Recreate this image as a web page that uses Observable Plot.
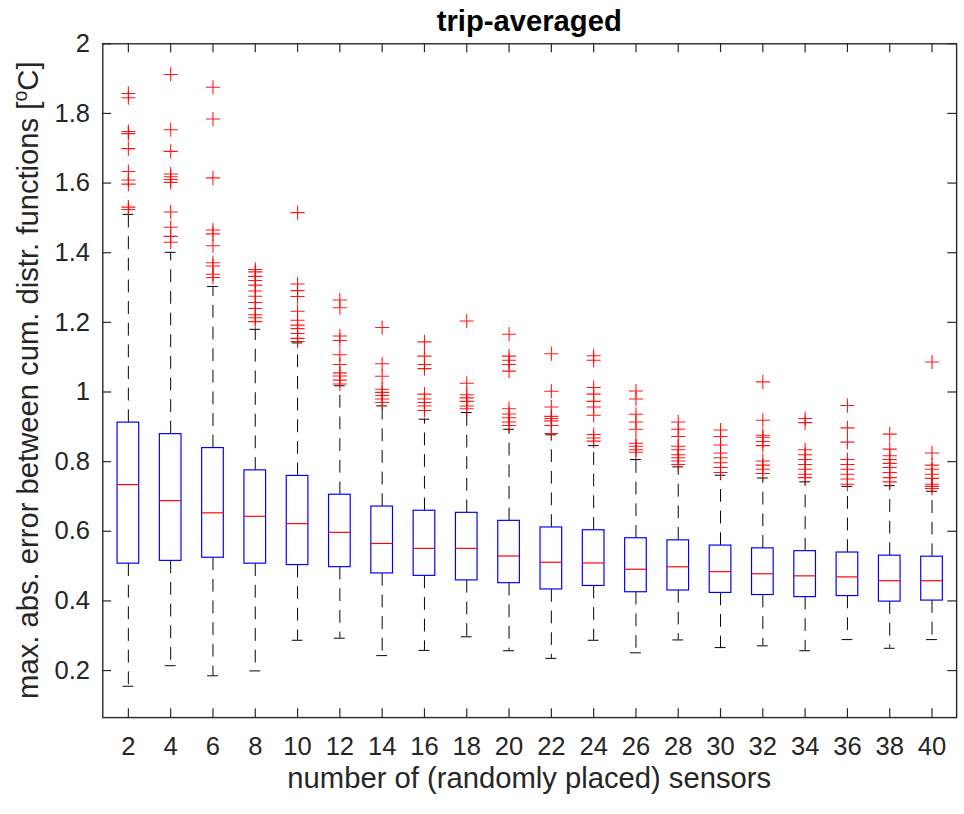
<!DOCTYPE html>
<html>
<head>
<meta charset="utf-8">
<script src="https://cdn.jsdelivr.net/npm/d3@7"></script>
<script src="https://cdn.jsdelivr.net/npm/@observablehq/plot@0.6"></script>
<style>
  html, body { margin: 0; padding: 0; background: #fff; overflow: hidden; }
  svg { display: block; }
</style>
</head>
<body>
<script>
// number of randomly placed sensors (categories)
const sensors = [2,4,6,8,10,12,14,16,18,20,22,24,26,28,30,32,34,36,38,40];
// box statistics
const q1  = [0.507,0.515,0.524,0.507,0.503,0.497,0.479,0.472,0.459,0.451,0.433,0.443,0.425,0.430,0.423,0.417,0.411,0.414,0.398,0.401];
const med = [0.734,0.688,0.653,0.643,0.622,0.597,0.565,0.551,0.551,0.529,0.511,0.509,0.491,0.498,0.484,0.478,0.472,0.469,0.458,0.458];
const q3  = [0.912,0.879,0.839,0.775,0.759,0.705,0.671,0.659,0.653,0.630,0.611,0.603,0.580,0.574,0.559,0.551,0.543,0.539,0.530,0.527];
const whiskerLo = [0.155,0.214,0.185,0.199,0.287,0.293,0.243,0.258,0.297,0.257,0.235,0.287,0.251,0.288,0.266,0.271,0.257,0.289,0.264,0.289];
const whiskerHi = [1.510,1.401,1.303,1.180,1.141,1.018,0.960,0.922,0.941,0.893,0.877,0.846,0.806,0.785,0.761,0.753,0.742,0.729,0.731,0.715];
// outliers per category
const outliers = [
  [1.857,1.845,1.748,1.742,1.699,1.633,1.609,1.597,1.531,1.524],
  [1.912,1.753,1.691,1.626,1.618,1.610,1.602,1.517,1.473,1.447,1.430],
  [1.875,1.784,1.615,1.465,1.454,1.420,1.371,1.362,1.338,1.329],
  [1.352,1.345,1.332,1.320,1.307,1.290,1.275,1.257,1.240,1.222,1.213,1.202],
  [1.515,1.310,1.291,1.274,1.232,1.206,1.192,1.182,1.168,1.154,1.145],
  [1.264,1.242,1.161,1.148,1.107,1.079,1.055,1.046,1.034,1.023],
  [1.185,1.081,1.045,1.008,0.999,0.990,0.980,0.970],
  [1.144,1.103,1.079,1.067,0.994,0.980,0.970,0.960,0.947],
  [1.204,1.025,0.992,0.983,0.973,0.960,0.952],
  [1.166,1.103,1.091,1.079,1.060,0.952,0.937,0.926,0.914,0.904],
  [1.110,1.002,0.957,0.930,0.924,0.917,0.904,0.881],
  [1.104,1.091,1.013,0.994,0.973,0.957,0.933,0.878,0.868,0.859],
  [1.003,0.980,0.936,0.914,0.893,0.853,0.844,0.834,0.827],
  [0.914,0.893,0.872,0.844,0.834,0.820,0.811,0.802,0.792],
  [0.891,0.872,0.848,0.825,0.811,0.797,0.783,0.769],
  [1.029,0.919,0.876,0.870,0.858,0.846,0.802,0.790,0.778,0.766],
  [0.924,0.912,0.834,0.820,0.806,0.792,0.778,0.764,0.754],
  [0.961,0.897,0.856,0.806,0.792,0.778,0.764,0.750,0.735],
  [0.879,0.836,0.817,0.806,0.795,0.783,0.769,0.754,0.742],
  [1.086,0.825,0.790,0.778,0.764,0.752,0.735,0.729,0.723]
];
const yTicks = [0.2,0.4,0.6,0.8,1,1.2,1.4,1.6,1.8,2];
const titleText = "trip-averaged";
const xLabel = "number of (randomly placed) sensors";
const yLabelMain = "max. abs. error between cum. distr. functions [";
const yLabelSup = "o";
const yLabelEnd = "C]";

// tables built from the arrays
const boxes = sensors.map((s, i) => ({s, q1: q1[i], med: med[i], q3: q3[i], lo: whiskerLo[i], hi: whiskerHi[i]}));
const outs = sensors.flatMap((s, i) => outliers[i].map(v => ({s, v})));

const W = 980, H = 814, mL = 104, mR = 8, mT = 44, mB = 85;
const plotW = W - mL - mR, plotH = H - mT - mB;
const tickLen = 9;
const axisColor = "#262626";
const labelSize = "29.7px";

const chart = Plot.plot({
  width: W, height: H,
  marginLeft: mL, marginRight: mR, marginTop: mT, marginBottom: mB,
  style: {fontFamily: "'Liberation Sans', Arial, Helvetica, sans-serif", color: axisColor, background: "#fff", overflow: "visible"},
  x: {type: "band", domain: sensors, paddingInner: 0.5, paddingOuter: 0.25},
  y: {domain: [0.065, 2]},
  marks: [
    // whiskers (dashed)
    Plot.ruleX(boxes, {x: "s", y1: "q3", y2: "hi", stroke: "#000", strokeWidth: 1, strokeDasharray: "13,9"}),
    Plot.ruleX(boxes, {x: "s", y1: "q1", y2: "lo", stroke: "#000", strokeWidth: 1, strokeDasharray: "13,9"}),
    // whisker caps
    Plot.tickY(boxes, {x: "s", y: "hi", stroke: "#000", strokeWidth: 1, insetLeft: 5.5, insetRight: 5.5}),
    Plot.tickY(boxes, {x: "s", y: "lo", stroke: "#000", strokeWidth: 1, insetLeft: 5.5, insetRight: 5.5}),
    // boxes
    Plot.barY(boxes, {x: "s", y1: "q1", y2: "q3", fill: "#fff", stroke: "#0000ff", strokeWidth: 1.2}),
    // medians
    Plot.tickY(boxes, {x: "s", y: "med", stroke: "#ff0000", strokeWidth: 1.2}),
    // outliers
    Plot.dot(outs, {x: "s", y: "v", symbol: "plus", r: 4.7, stroke: "#ff0000", strokeWidth: 1.1, strokeOpacity: 0.9}),
    // axes box
    Plot.frame({stroke: axisColor, strokeWidth: 1.4}),
    // inward ticks
    Plot.ruleX(sensors, {x: d => d, insetTop: plotH - tickLen, stroke: axisColor, strokeWidth: 1.2}),
    Plot.ruleX(sensors, {x: d => d, insetBottom: plotH - tickLen, stroke: axisColor, strokeWidth: 1.2}),
    Plot.ruleY(yTicks, {y: d => d, insetRight: plotW - tickLen, stroke: axisColor, strokeWidth: 1.2}),
    Plot.ruleY(yTicks, {y: d => d, insetLeft: plotW - tickLen, stroke: axisColor, strokeWidth: 1.2}),
    // tick labels
    Plot.axisX({anchor: "bottom", tickSize: 0, tickPadding: 20, fontSize: 26, label: null}),
    Plot.axisY(yTicks, {anchor: "left", tickSize: 0, tickPadding: 13, fontSize: 26, tickFormat: d => String(d), label: null})
  ]
});
document.body.appendChild(chart);

const svg = d3.select(chart);
const cx = mL + plotW / 2, cy = mT + plotH / 2;
svg.append("text")
  .attr("x", cx).attr("y", 32)
  .attr("text-anchor", "middle")
  .attr("fill", "#000")
  .style("font-size", labelSize).style("font-weight", "bold")
  .text(titleText);
svg.append("text")
  .attr("x", cx).attr("y", 801)
  .attr("text-anchor", "middle")
  .attr("fill", axisColor)
  .style("font-size", labelSize)
  .text(xLabel);
const yl = svg.append("text")
  .attr("transform", `translate(38.5,${cy}) rotate(-90)`)
  .attr("text-anchor", "middle")
  .attr("fill", axisColor)
  .style("font-size", labelSize);
yl.append("tspan").text(yLabelMain);
yl.append("tspan").attr("dy", -11).style("font-size", "20px").text(yLabelSup);
yl.append("tspan").attr("dy", 11).text(yLabelEnd);
</script>
</body>
</html>
